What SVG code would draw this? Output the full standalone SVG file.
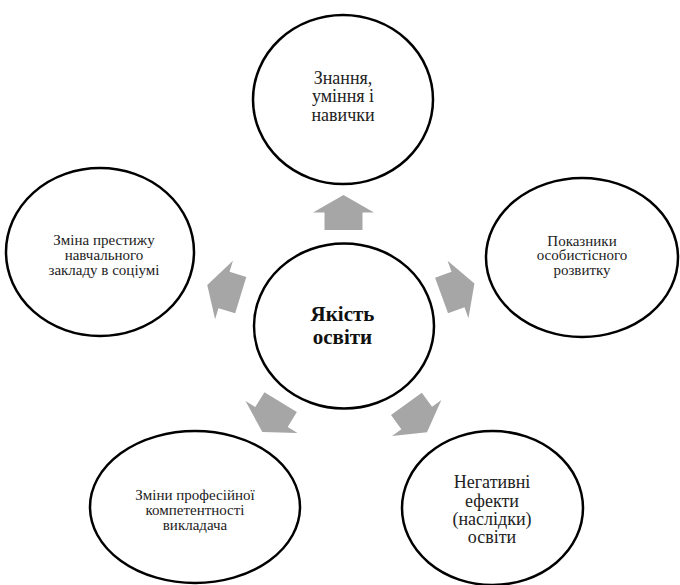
<svg xmlns="http://www.w3.org/2000/svg" xmlns:xlink="http://www.w3.org/1999/xlink" width="680" height="585" viewBox="0 0 680 585">
<style>
.node{fill:#ffffff;stroke:#000000;stroke-width:2.5}
.t{font-family:'Liberation Serif','DejaVu Serif','Times New Roman',serif;fill:#222222;text-anchor:middle}
.s{font-size:15px}
.m{font-size:18px}
.b{font-size:21px;font-weight:bold;fill:#111111}
.arr{fill:#a6a6a6}
</style>
<defs>
<path id="blk" d="M0,-17.5 L30.5,0 L19,0 L19,17.5 L-19,17.5 L-19,0 L-30.5,0 Z"/>
</defs>
<rect width="680" height="585" fill="#ffffff"/>
<g id="connectors">
<use xlink:href="#blk" class="arr" transform="translate(343.5,212.5)"/>
<use xlink:href="#blk" class="arr" transform="translate(458,289.5) rotate(70)"/>
<use xlink:href="#blk" class="arr" transform="translate(224,290) rotate(-73)"/>
<use xlink:href="#blk" class="arr" transform="translate(271.5,417) rotate(211.5)"/>
<use xlink:href="#blk" class="arr" transform="translate(416.7,418) rotate(144)"/>
</g>
<g id="center">
<ellipse class="node" cx="344" cy="326" rx="90" ry="82.5"/>
<text class="t b" x="342.5" y="321">Якість</text>
<text class="t b" x="342.5" y="343.5">освіти</text>
</g>
<g id="top">
<ellipse class="node" cx="343" cy="99.5" rx="90" ry="84.5"/>
<text class="t m" x="343" y="83.5">Знання,</text>
<text class="t m" x="343" y="102">уміння і</text>
<text class="t m" x="343" y="120.5">навички</text>
</g>
<g id="right">
<ellipse class="node" cx="582" cy="257.5" rx="96" ry="79.5"/>
<text class="t s" x="582" y="245.5">Показники</text>
<text class="t s" x="582" y="260">особистісного</text>
<text class="t s" x="582" y="275">розвитку</text>
</g>
<g id="bottom-right">
<ellipse class="node" cx="492.5" cy="508" rx="90.5" ry="77"/>
<text class="t m" x="492" y="488.3">Негативні</text>
<text class="t m" x="492" y="506.7">ефекти</text>
<text class="t m" x="492" y="525">(наслідки)</text>
<text class="t m" x="492" y="543.3">освіти</text>
</g>
<g id="bottom-left">
<ellipse class="node" cx="195" cy="507" rx="105" ry="76"/>
<text class="t s" x="195" y="500">Зміни професійної</text>
<text class="t s" x="195" y="515">компетентності</text>
<text class="t s" x="195" y="530">викладача</text>
</g>
<g id="left">
<ellipse class="node" cx="100" cy="252" rx="94" ry="84"/>
<text class="t s" x="104" y="245">Зміна престижу</text>
<text class="t s" x="104" y="260">навчального</text>
<text class="t s" x="104" y="274.5">закладу в соціумі</text>
</g>
</svg>
